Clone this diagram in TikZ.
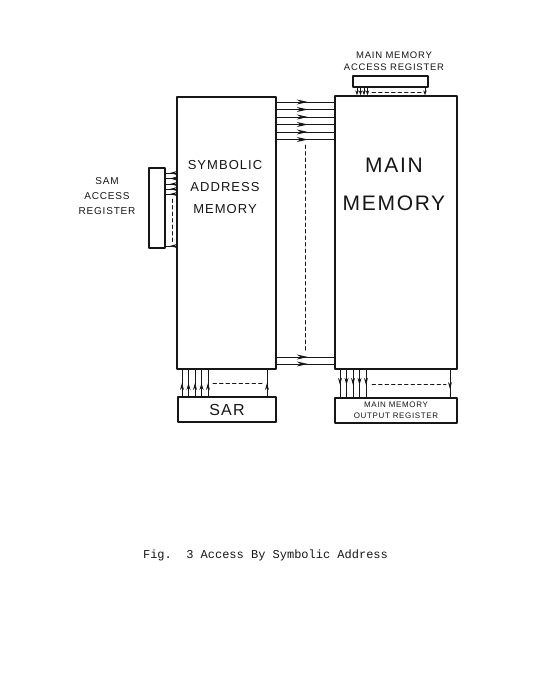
\documentclass[tikz,border=0pt]{standalone}
\usepackage{fontspec}
\setsansfont{Liberation Sans}
\setmonofont{Liberation Mono}
\usepackage{xcolor}
\usepackage{tikz}
\usetikzlibrary{arrows.meta,decorations.markings,positioning}
\definecolor{saInk}{HTML}{161616}
\tikzset{
  sa diagram/.style={font=\sffamily, text=saInk,
    line cap=round, line join=round},
  sa box/.style={draw=saInk, fill=white, line width=1.3pt, inner sep=0pt},
  sa wire/.style={draw=saInk, line width=1pt},
  sa dashes/.style={sa wire, dash pattern=on 3.5pt off 3pt},
  sa bus arrow/.style={sa wire, postaction={decorate},
    decoration={markings, mark=at position #1 with {\arrow{Stealth[length=11pt,width=5pt]}}}},
  sa bus arrow/.default=0.54,
  sa tick arrow/.style={sa wire, postaction={decorate},
    decoration={markings, mark=at position #1 with {\arrow{Stealth[length=7pt,width=4pt]}}}},
  sa tick arrow/.default=0.55,
  sa end arrow/.style={sa wire, -{Stealth[length=5pt,width=3.5pt]}},
  sa hand/.style={align=center, font=\sffamily\fontsize{#1}{#1}\selectfont\addfontfeatures{LetterSpace=8}},
  sa caption/.style={font=\ttfamily\fontsize{12}{14}\selectfont}
}
\begin{document}
\begin{tikzpicture}[sa diagram,x=1pt,y=-1pt]
\useasboundingbox (0,0) rectangle (550,691);
% memories and registers
\node[sa box, minimum width=99pt, minimum height=272pt] (sam) at (226.5,233) {};
\node[sa box, minimum width=122pt, minimum height=273pt] (main) at (396,232.5) {};
\node[sa box, minimum width=16pt, minimum height=80pt] (samreg) at (157,208) {};
\node[sa box, minimum width=75pt, minimum height=11pt] (mar) at (390.5,81.5) {};
\node[sa box, minimum width=98pt, minimum height=25pt, sa hand=16] (sar) at (227,409.5) {SAR};
\node[sa box, minimum width=122pt, minimum height=25pt, sa hand=8] (mor) at (396,410.5)
  {MAIN MEMORY\\[3pt]OUTPUT REGISTER};
\node[sa hand=13] (samtext) at (225,187) {SYMBOLIC\\[9pt]ADDRESS\\[9pt]MEMORY};
\node[sa hand=21] (maintext) at (394,184) {MAIN\\[17pt]MEMORY};
\node[sa hand=10] (samreglabel) at (107,196) {SAM\\[5pt]ACCESS\\[5pt]REGISTER};
\node[sa hand=9.5] (marlabel) at (394,61) {MAIN MEMORY\\[3pt]ACCESS REGISTER};

% address bus
\foreach \y in {102,109.5,117,124.5,132,139.5}
  \draw[sa bus arrow] (sam.east |- 0,\y) -- (main.west |- 0,\y);
\foreach \y in {357,364}
  \draw[sa bus arrow] (sam.east |- 0,\y) -- (main.west |- 0,\y);
\coordinate (bus top) at (305,145);
\coordinate (bus bottom) at (305,351);
\draw[sa dashes] (bus top) -- (bus bottom);

% main memory access register
\foreach \x in {357,360.5,364,367.5}
  \draw[sa end arrow] (mar.south -| \x,0) -- (main.north -| \x,0);
\draw[sa end arrow] (mar.south -| 425,0) -- (main.north -| 425,0);
\coordinate (mar dash left) at (372,92);
\coordinate (mar dash right) at (421,92);
\draw[sa dashes] (mar dash left) -- (mar dash right);

% SAM access register
\foreach \y in {173,178.5,184,189,194}
  \draw[sa tick arrow=0.6] (sam.west |- 0,\y) -- (samreg.east |- 0,\y);
\draw[sa tick arrow=0.6] (sam.west |- 0,246) -- (samreg.east |- 0,246);
\coordinate (samreg dash top) at (172,199);
\coordinate (samreg dash bottom) at (172,242);
\draw[sa dashes] (samreg dash top) -- (samreg dash bottom);

% SAR
\foreach \x in {182,188.5,195,201.5,208}
  \draw[sa tick arrow=0.5] (sar.north -| \x,0) -- (sam.south -| \x,0);
\draw[sa tick arrow=0.5] (sar.north -| 267,0) -- (sam.south -| 267,0);
\coordinate (sar dash left) at (213,383);
\coordinate (sar dash right) at (262,383);
\draw[sa dashes] (sar dash left) -- (sar dash right);

% main memory output register
\foreach \x in {340,346.5,353,359.5,366}
  \draw[sa tick arrow=0.55] (main.south -| \x,0) -- (mor.north -| \x,0);
\draw[sa tick arrow=0.7] (main.south -| 450,0) -- (mor.north -| 450,0);
\coordinate (mor dash left) at (372,384);
\coordinate (mor dash right) at (446,384);
\draw[sa dashes] (mor dash left) -- (mor dash right);

\node[sa caption, anchor=base] (caption) at (265.5,558) {Fig.\ \ 3 Access By Symbolic Address};
\end{tikzpicture}
\end{document}
